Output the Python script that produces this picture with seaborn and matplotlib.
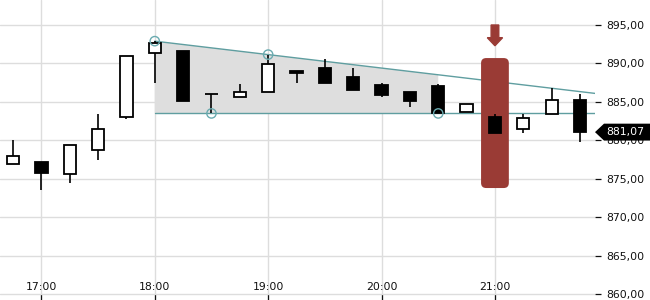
import matplotlib
matplotlib.use("Agg")
import matplotlib.pyplot as plt
import matplotlib.ticker as mticker
from matplotlib.patches import FancyBboxPatch, Polygon, FancyArrow
import matplotlib.transforms as mtransforms
import seaborn as sns
import pandas as pd
import numpy as np

# ---- data ----
times = ["16:45", "17:00", "17:15", "17:30", "17:45", "18:00", "18:15", "18:30",
         "18:45", "19:00", "19:15", "19:30", "19:45", "20:00", "20:15", "20:30",
         "20:45", "21:00", "21:15", "21:30", "21:45"]
opens  = [876.9, 877.2, 875.6, 878.7, 883.0, 891.3, 891.6, 886.0, 885.7, 886.25, 889.0,
          889.4, 888.2, 887.2, 886.3, 887.1, 883.65, 883.1, 881.45, 883.4, 885.25]
closes = [878.0, 875.7, 879.35, 881.5, 891.0, 892.6, 885.15, 886.0, 886.25, 889.9, 888.7,
          887.4, 886.6, 885.95, 885.15, 883.55, 884.7, 880.9, 882.9, 885.25, 881.07]
highs  = [880.0, 877.2, 879.35, 883.4, 891.0, 892.9, 891.6, 886.0, 887.3, 891.1, 889.0,
          890.6, 889.4, 887.4, 886.3, 887.3, 884.7, 883.4, 883.4, 886.8, 886.0]
lows   = [876.9, 873.5, 874.4, 877.5, 882.8, 887.5, 885.15, 883.55, 885.7, 886.25, 887.4,
          887.4, 886.6, 885.7, 884.4, 883.5, 883.65, 880.9, 881.0, 883.4, 879.8]

hour_labels = ["17:00", "18:00", "19:00", "20:00", "21:00"]
y_ticks = [860, 865, 870, 875, 880, 885, 890, 895]

# triangle pattern pivots
resist_idx = [5, 9]
resist_val = [892.9, 891.15]
support_idx = [7, 15]
support_val = 883.5
pattern_end_idx = 15
signal_idx = 17
signal_range = [873.8, 890.7]
last_price = 881.07

df = pd.DataFrame({"time": times, "open": opens, "close": closes,
                   "high": highs, "low": lows})
df["x"] = np.arange(len(df))

# ---- figure ----
sns.set_theme(style="white")
plt.rcParams["font.family"] = ["DejaVu Sans"]
fig = plt.figure(figsize=(6.5, 3.0), dpi=100)
ax = fig.add_axes([0, 0, 595 / 650, 1])

x_left, x_right = -0.459, (595 - 13) / 28.35
ax.set_xlim(x_left, x_right)
ax.set_ylim(859.24, 898.25)

for s in ax.spines.values():
    s.set_visible(False)

# grid
ax.set_yticks(y_ticks)
ax.set_xticks([times.index(h) for h in hour_labels])
ax.set_xticklabels(hour_labels)
ax.grid(True, color="#dddddd", linewidth=1.0)
ax.set_axisbelow(True)

ax.yaxis.tick_right()
ax.yaxis.set_major_formatter(mticker.FuncFormatter(lambda v, p: f"{v:.2f}".replace(".", ",")))
ax.tick_params(axis="y", direction="out", length=4, width=0.9, pad=4,
               labelsize=7.8, colors="#111111", right=True, left=False)
ax.tick_params(axis="x", direction="in", length=4.5, width=0.9, pad=-5.5,
               labelsize=7.8, colors="#111111", bottom=True)
for lab in ax.get_xticklabels():
    lab.set_va("bottom")

# shaded triangle region
slope = (resist_val[1] - resist_val[0]) / (resist_idx[1] - resist_idx[0])
def upper(x):
    return resist_val[0] + slope * (x - resist_idx[0])
xs0 = resist_idx[0]
poly = Polygon([(xs0, support_val), (xs0, upper(xs0)),
                (pattern_end_idx, upper(pattern_end_idx)), (pattern_end_idx, support_val)],
               closed=True, facecolor="#dedede", edgecolor="none", zorder=1)
ax.add_patch(poly)

# trend lines
ax.plot([xs0, x_right], [upper(xs0), upper(x_right)], color="#5f9ea0", lw=1.0, zorder=2)
ax.plot([xs0, x_right], [support_val, support_val], color="#5f9ea0", lw=1.0, zorder=2)

# signal highlight
r = 0.18
sig = FancyBboxPatch((signal_idx - 0.49, signal_range[0]), 0.98, signal_range[1] - signal_range[0],
                     boxstyle=f"round,pad=0,rounding_size={r}",
                     mutation_aspect=28.35 / 7.69,
                     facecolor="#9a3b35", edgecolor="none", zorder=3)
ax.add_patch(sig)
arr = FancyArrow(signal_idx, 895.0, 0, -1.65, width=0.27, head_width=0.54, head_length=1.05,
                 length_includes_head=False, color="#9a3b35", zorder=3)
ax.add_patch(arr)

# candlesticks
body_w = 12.3 / 28.35
for _, row in df.iterrows():
    up = row["close"] >= row["open"]
    bot = min(row["open"], row["close"])
    top = max(row["open"], row["close"])
    ax.vlines(row["x"], row["low"], row["high"], color="black", lw=1.2, zorder=4)
    ax.bar(row["x"], top - bot, bottom=bot, width=body_w,
           color="white" if up else "black", edgecolor="black", linewidth=1.3, zorder=5)

# pivot circles
piv = pd.DataFrame({"x": resist_idx + support_idx,
                    "y": resist_val[:1] + [upper(resist_idx[1])] + [support_val] * 2})
sns.scatterplot(data=piv, x="x", y="y", ax=ax, s=45, facecolor="none",
                edgecolor="#6aabb0", linewidth=1.0, zorder=6, legend=False)
ax.set_xlabel("")
ax.set_ylabel("")

# last price tag
blend = mtransforms.blended_transform_factory(fig.transFigure, ax.transData)
h = 1.1
tag = Polygon([(595 / 650, last_price), (604 / 650, last_price + h), (1.0, last_price + h),
               (1.0, last_price - h), (604 / 650, last_price - h)],
              closed=True, transform=blend, facecolor="black", edgecolor="none",
              zorder=10, clip_on=False)
fig.add_artist(tag)
fig.text(625 / 650, last_price, f"{last_price:.2f}".replace(".", ","), transform=blend,
         color="white", fontsize=7.8, ha="center", va="center", zorder=11)

fig.savefig("out.png", dpi=100)
